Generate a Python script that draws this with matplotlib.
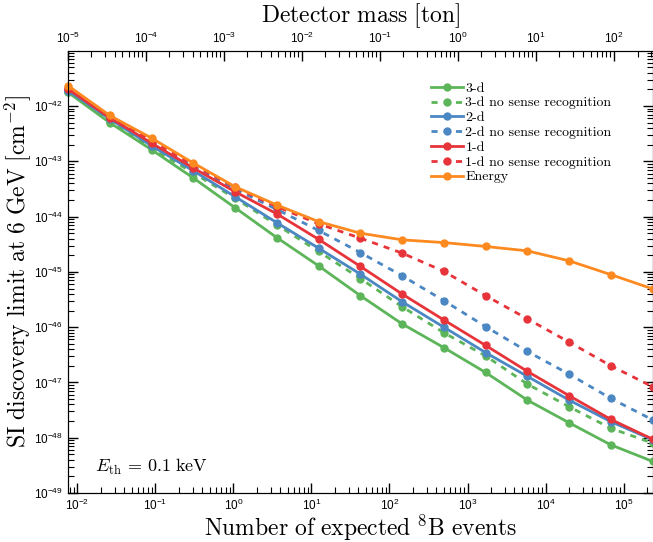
import matplotlib
matplotlib.use("Agg")
import matplotlib.pyplot as plt
import numpy as np

plt.rcParams['mathtext.fontset'] = 'cm'
plt.rcParams['font.family'] = ['Liberation Sans', 'DejaVu Sans']
plt.rcParams['axes.unicode_minus'] = False

# detector masses (ton) of the computed points
MASS = [1.0e-5, 3.43e-5, 1.18e-4, 4.04e-4, 1.39e-3, 4.76e-3, 1.63e-2, 5.60e-2,
        0.192, 0.659, 2.26, 7.76, 26.6, 91.3, 316.0]
EVENTS_PER_TON = 755.0   # expected 8B events per ton

# log10 of SI discovery limit (cm^-2)
LOG_3D = [-41.75, -42.30, -42.79, -43.30, -43.84, -44.38, -44.89, -45.43,
          -45.94, -46.37, -46.82, -47.32, -47.73, -48.13, -48.43]
LOG_3D_NS = [-41.74, -42.28, -42.76, -43.21, -43.67, -44.15, -44.63, -45.12,
             -45.63, -46.10, -46.52, -47.03, -47.44, -47.83, -48.10]
LOG_2D = [-41.72, -42.23, -42.72, -43.17, -43.64, -44.11, -44.57, -45.04,
          -45.54, -46.00, -46.46, -46.89, -47.32, -47.71, -48.04]
LOG_2D_NS = [-41.71, -42.22, -42.68, -43.10, -43.50, -43.87, -44.25, -44.65,
             -45.07, -45.52, -45.99, -46.44, -46.85, -47.29, -47.68]
LOG_1D = [-41.69, -42.21, -42.67, -43.12, -43.55, -43.95, -44.41, -44.90,
          -45.40, -45.87, -46.33, -46.80, -47.24, -47.67, -48.03]
LOG_1D_NS = [-41.68, -42.19, -42.62, -43.06, -43.47, -43.82, -44.13, -44.39,
             -44.66, -44.99, -45.43, -45.85, -46.27, -46.70, -47.08]
LOG_EN = [-41.63, -42.17, -42.58, -43.03, -43.46, -43.79, -44.09, -44.30,
          -44.42, -44.47, -44.54, -44.62, -44.80, -45.05, -45.31]

GREEN, BLUE, RED, ORANGE = '#5db55a', '#4b87c2', '#e7343a', '#fd8a20'

series = [
    (LOG_3D, GREEN, '-', '3-d'),
    (LOG_3D_NS, GREEN, '--', '3-d no sense recognition'),
    (LOG_2D, BLUE, '-', '2-d'),
    (LOG_2D_NS, BLUE, '--', '2-d no sense recognition'),
    (LOG_1D, RED, '-', '1-d'),
    (LOG_1D_NS, RED, '--', '1-d no sense recognition'),
    (LOG_EN, ORANGE, '-', 'Energy'),
]

mass = np.array(MASS)
nev = mass * EVENTS_PER_TON

fig = plt.figure(figsize=(6.53, 5.42), dpi=100)
ax = fig.add_axes([0.104, 0.0904, 0.896, 0.8155])

for logs, col, ls, lab in series:
    kw = dict(dashes=(2.2, 2.2)) if ls == '--' else {}
    ax.plot(nev, 10.0 ** np.array(logs), color=col, ls=ls, lw=2.0,
            marker='o', ms=5, label=lab, clip_on=False, zorder=3, **kw)

ax.set_xscale('log'); ax.set_yscale('log')
ax.set_xlim(nev[0], nev[-1])
ax.set_ylim(1e-49, 0.99e-41)
ax.tick_params(which='both', direction='in', labelsize=8.5, right=True, top=False)
ax.tick_params(which='major', length=7, width=1)
ax.tick_params(which='minor', length=4, width=0.8)
ax.set_xlabel(r'$\mathrm{Number\ of\ expected\ }^{8}\mathrm{B\ events}$', fontsize=17, labelpad=0)
ax.set_ylabel(r'$\mathrm{SI\ discovery\ limit\ at\ 6\ GeV\ [cm}^{-2}\mathrm{]}$', fontsize=17, labelpad=1)

top = ax.twiny()
top.set_xscale('log')
top.set_xlim(mass[0], mass[-1])
top.tick_params(which='both', direction='in', labelsize=8.5)
top.tick_params(which='major', length=7, width=1)
top.tick_params(which='minor', length=4, width=0.8)
top.set_xlabel(r'$\mathrm{Detector\ mass\ [ton]}$', fontsize=17, labelpad=6)

ax.text(0.046, 0.058, r'$E_{\mathrm{th}}\,=\,0.1\ \mathrm{keV}$', transform=ax.transAxes,
        fontsize=13, va='center', ha='left')

ax.legend(loc='upper left', bbox_to_anchor=(0.62, 0.93), frameon=False,
          prop={'family': 'cmr10', 'size': 10}, handlelength=2.3,
          handletextpad=0.2, labelspacing=0.15, borderpad=0, borderaxespad=0)

fig.savefig('out.png', dpi=100)
